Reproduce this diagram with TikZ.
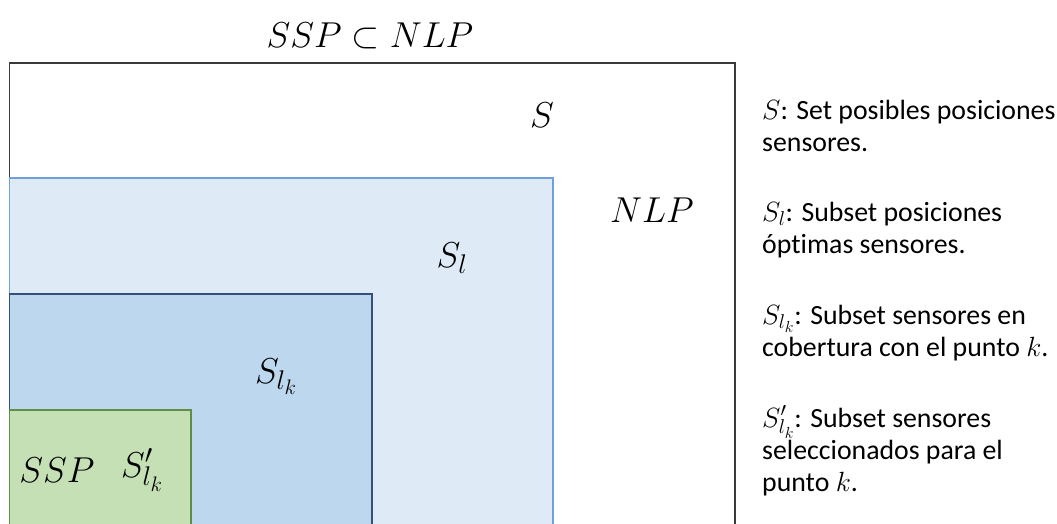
\documentclass[tikz,border=0pt]{standalone}
\usepackage{fix-cm}
\usepackage{fontspec}
\setmainfont{Carlito}[Ligatures=CommonOff]
\DeclareMathSizes{36}{36}{27}{21}
\DeclareMathSizes{27.8}{27.8}{20}{16}
\begin{document}
\begin{tikzpicture}[x=1pt,y=-1pt,
  setbox/.style={line width=1.3pt},
  bigmath/.style={anchor=base,inner sep=0pt,font=\fontsize{36}{40}\selectfont},
  legend/.style={anchor=base west,inner sep=0pt,align=left,
    font=\fontsize{27.8}{32}\selectfont}]
\definecolor{outerline}{HTML}{3A3A3A}
\definecolor{lfill}{HTML}{DEEBF7}
\definecolor{lline}{HTML}{6FA0D8}
\definecolor{kfill}{HTML}{BDD7EE}
\definecolor{kline}{HTML}{34507F}
\definecolor{gfill}{HTML}{C5E0B4}
\definecolor{gline}{HTML}{5E8F45}
\useasboundingbox (0,0) rectangle (1057,523);
\begin{scope}
\clip (0,0) rectangle (1057,523);
% nested sets, open towards the bottom edge
\draw[setbox,draw=outerline,fill=white] (9.5,63) rectangle (735,540);
\draw[setbox,draw=lline,fill=lfill] (9.5,178) rectangle (553,540);
\draw[setbox,draw=kline,fill=kfill] (9.5,294) rectangle (372,540);
\draw[setbox,draw=gline,fill=gfill] (9.5,410) rectangle (191,540);
\end{scope}
% set labels
\node[bigmath] (title) at (370,47) {$SSP\subset NLP$};
\node[bigmath] (lS) at (542,127) {$S$};
\node[bigmath] (lNLP) at (652,222) {$NLP$};
\node[bigmath] (lSl) at (452,267) {$S_l$};
\node[bigmath] (lSlk) at (276,383) {$S_{l_k}$};
\node[bigmath] (lSSP) at (57,482) {$SSP$};
\node[bigmath] (lSp) at (142,477) {$S'_{l_k}$};
% legend (anchored at the baseline of each block's last line)
\node[legend] (dS) at (762,151) {$S$: Set posibles posiciones\\sensores.};
\node[legend] (dSl) at (762,253) {$S_l$: Subset posiciones\\óptimas sensores.};
\node[legend] (dSlk) at (762,356) {$S_{l_k}$: Subset sensores en\\cobertura con el punto $k$.};
\node[legend] (dSp) at (762,491) {$S'_{l_k}$: Subset sensores\\seleccionados para el\\punto $k$.};
\end{tikzpicture}
\end{document}
